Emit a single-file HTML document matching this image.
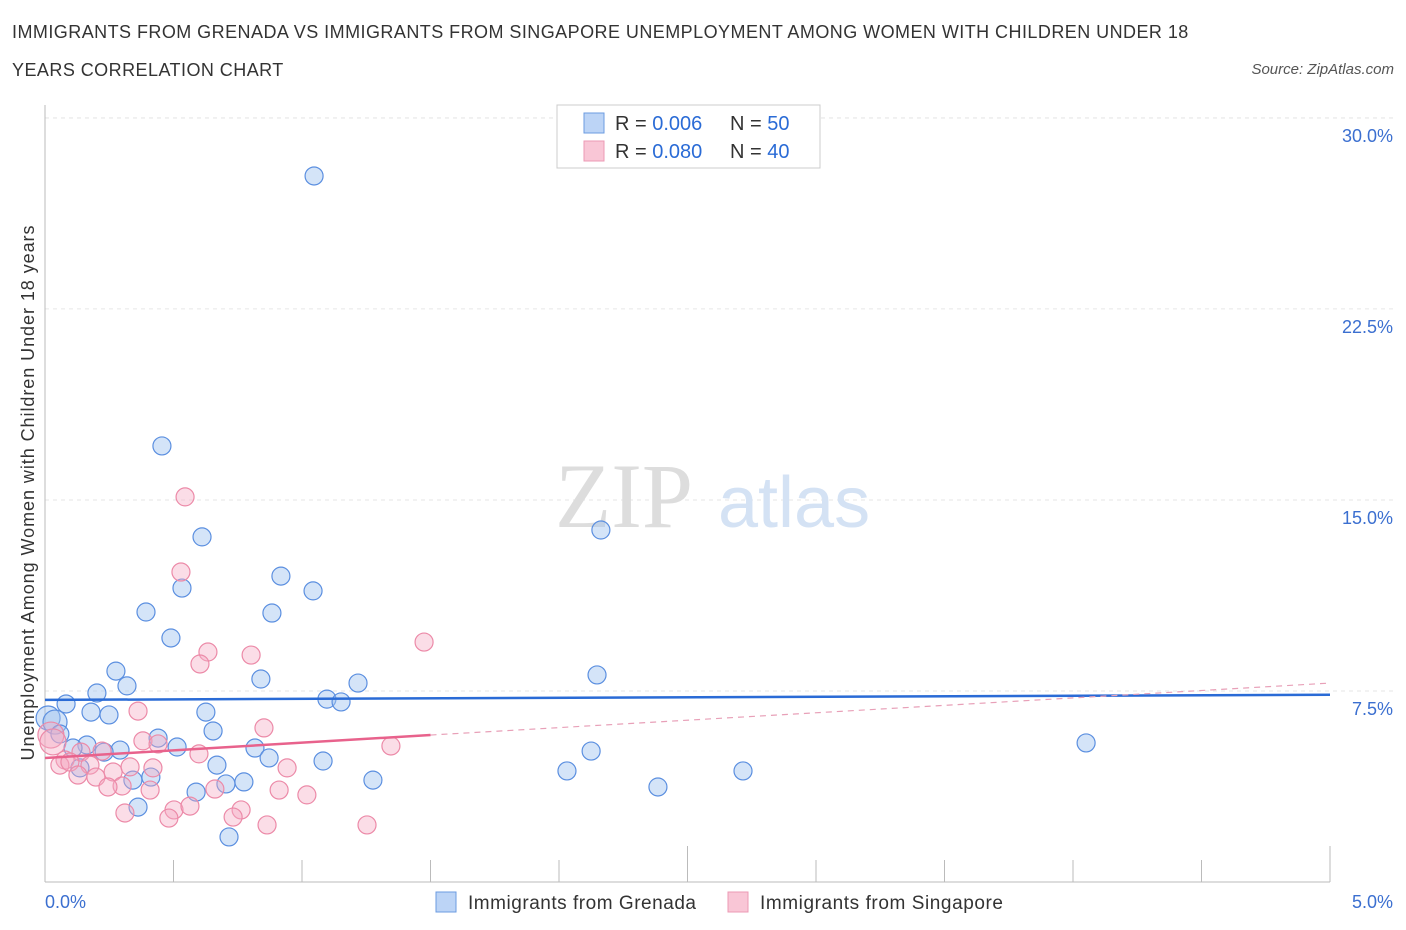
<!DOCTYPE html>
<html><head><meta charset="utf-8"><style>
body{margin:0;background:#fff;font-family:"Liberation Sans",sans-serif;}
#wrap{position:relative;width:1406px;height:930px;overflow:hidden}
.t{position:absolute;color:#333;font-size:18px;white-space:nowrap;letter-spacing:0.45px}
</style></head><body>
<div id="wrap">
<div class="t" style="left:12px;top:22px">IMMIGRANTS FROM GRENADA VS IMMIGRANTS FROM SINGAPORE UNEMPLOYMENT AMONG WOMEN WITH CHILDREN UNDER 18</div>
<div class="t" style="left:12px;top:60px">YEARS CORRELATION CHART</div>
<div class="t" style="right:12px;top:61px;font-size:15px;font-style:italic;color:#555;letter-spacing:0">Source: ZipAtlas.com</div>
<svg id="svg" width="1406" height="930" style="position:absolute;left:0;top:0"></svg>
</div>
<script>
const blueX=[1.047,0.455,2.163,0.611,0.533,0.918,1.043,0.393,0.883,0.490,2.148,0.276,0.319,0.840,1.218,0.202,1.097,1.152,0.082,0.179,0.249,0.626,0.012,0.039,0.654,0.058,0.440,0.163,0.109,0.514,0.292,0.230,0.817,2.125,0.872,1.082,4.051,0.669,0.136,0.412,0.342,0.774,1.276,2.031,2.716,0.704,0.588,0.362,2.385,0.716];
const blueY=[27.72,17.12,13.82,13.55,11.54,12.01,11.43,10.60,10.56,9.58,8.13,8.28,7.70,7.97,7.81,7.42,7.18,7.07,6.99,6.67,6.56,6.67,6.44,6.28,5.93,5.81,5.65,5.38,5.26,5.30,5.18,5.10,5.26,5.14,4.87,4.75,5.46,4.59,4.48,4.12,4.00,3.93,4.00,4.36,4.36,3.85,3.53,2.94,3.73,1.77];
const pinkX=[0.545,0.529,1.475,0.634,0.802,0.603,0.362,0.852,0.023,0.381,1.346,0.440,0.599,0.140,0.222,0.078,0.058,0.097,0.175,0.265,0.331,0.420,0.942,0.128,0.198,0.300,0.245,0.409,0.661,0.911,1.019,0.763,0.502,0.564,0.311,0.732,0.482,0.864,1.253,0.031];
const pinkY=[15.12,12.17,9.42,9.03,8.91,8.56,6.71,6.05,5.77,5.54,5.34,5.42,5.03,5.10,5.14,4.79,4.59,4.71,4.59,4.32,4.52,4.48,4.48,4.20,4.12,3.77,3.73,3.61,3.65,3.61,3.42,2.83,2.83,2.98,2.71,2.55,2.51,2.24,2.24,5.50];
const yTicks=[7.5,15,22.5,30];
const yTickLabels=["7.5%","15.0%","22.5%","30.0%"];
const blueTrend=[7.15,7.35];
const pinkTrend=[4.87,5.77,7.81];
const X0=45,X1=1330,Y0=882,PPY=25.47;
const sx=v=>X0+(X1-X0)*v/5, sy=v=>Y0-v*PPY;
const svg=document.getElementById('svg'),NS='http://www.w3.org/2000/svg';
function mk(tag,at,parent){const e=document.createElementNS(NS,tag);for(const k in at)e.setAttribute(k,at[k]);(parent||svg).appendChild(e);return e;}
yTicks.forEach((v,i)=>{
 const g=mk('line',{x1:X0,x2:1395,y1:sy(v),y2:sy(v),stroke:'#e6e6e6','stroke-dasharray':'4,4'});
 
 
 const t=mk('text',{x:1393,y:sy(v)+24,'text-anchor':'end',fill:'#3b6fd0','font-size':18,'font-family':'Liberation Sans'});
 t.textContent=yTickLabels[i];
 
 
});
const tg=mk('line',{x1:X0,x2:1395,y1:118,y2:118,stroke:'#e6e6e6','stroke-dasharray':'4,4'});


const ya=mk('line',{x1:X0,x2:X0,y1:105,y2:Y0,stroke:'#bbb'});


const xa=mk('line',{x1:X0,x2:X1,y1:Y0,y2:Y0,stroke:'#bbb'});


for(let i=1;i<=10;i++){const x=X0+(X1-X0)*i/10;const tk=mk('line',{x1:x,x2:x,y1:Y0,y2:Y0-(i%5==0?36:22),stroke:'#bbb'});
 
 }
const wm=mk('text',{x:555,y:527,fill:'#ddd','font-size':92,'font-family':'Liberation Serif'});wm.textContent='ZIP';


const wm2=mk('text',{x:718,y:527,fill:'#d4e2f4','font-size':72,'font-family':'Liberation Sans'});wm2.textContent='atlas';


blueX.forEach((x,i)=>{const c=mk('circle',{cx:sx(x),cy:sy(blueY[i]),r:(x<0.05?12:9),fill:'rgba(160,195,240,0.45)',stroke:'#5b8fe0','stroke-width':1.2});
 
 });
pinkX.forEach((x,i)=>{const c=mk('circle',{cx:sx(x),cy:sy(pinkY[i]),r:(x<0.05?13:9),fill:'rgba(245,170,195,0.4)',stroke:'#ec8aa8','stroke-width':1.2});
 
 });
const bl=mk('line',{x1:sx(0),x2:sx(5),y1:sy(blueTrend[0]),y2:sy(blueTrend[1]),stroke:'#2a6bd6','stroke-width':2.5});


const pl=mk('line',{x1:sx(0),x2:sx(1.5),y1:sy(pinkTrend[0]),y2:sy(pinkTrend[1]),stroke:'#e8628c','stroke-width':2.5});


const pd=mk('line',{x1:sx(1.5),x2:sx(5),y1:sy(pinkTrend[1]),y2:sy(pinkTrend[2]),stroke:'#e8a0b8','stroke-width':1.2,'stroke-dasharray':'6,5'});


[[45,'start','0.0%'],[1393,'end','5.0%']].forEach(a=>{const t=mk('text',{x:a[0],y:908,'text-anchor':a[1],fill:'#3b6fd0','font-size':18,'font-family':'Liberation Sans'});t.textContent=a[2];
 
 });
const yt=mk('text',{x:0,y:0,transform:'translate(34,493) rotate(-90)','text-anchor':'middle',fill:'#333','font-size':18,'font-family':'Liberation Sans','textLength':535});yt.textContent='Unemployment Among Women with Children Under 18 years';


const lb=mk('rect',{x:557,y:105,width:263,height:63,fill:'#fff',stroke:'#ccc'});


[[123,'#bcd4f6','#6b9be0','0.006','50'],[151,'#f9c6d6','#ec9ab4','0.080','40']].forEach(r=>{
 const s=mk('rect',{x:584,y:r[0]-10,width:20,height:20,fill:r[1],stroke:r[2]});
 
 
 const t=mk('text',{x:615,y:r[0]+7,'font-size':20,'font-family':'Liberation Sans',fill:'#333'});
 t.innerHTML='R = <tspan fill="#2a6bd6">'+r[3]+'</tspan>';
 
 
 const n=mk('text',{x:730,y:r[0]+7,'font-size':20,'font-family':'Liberation Sans',fill:'#333'});
 n.innerHTML='N = <tspan fill="#2a6bd6">'+r[4]+'</tspan>';
 
 
});
[[436,'#bcd4f6','#6b9be0','Immigrants from Grenada',228],[728,'#f9c6d6','#ec9ab4','Immigrants from Singapore',243]].forEach(r=>{
 const s=mk('rect',{x:r[0],y:892,width:20,height:20,fill:r[1],stroke:r[2]});
 
 
 const t=mk('text',{x:r[0]+32,y:909,'font-size':19,'font-family':'Liberation Sans',fill:'#333',textLength:r[4]});t.textContent=r[3];
 
 
});
</script>
</body></html>
